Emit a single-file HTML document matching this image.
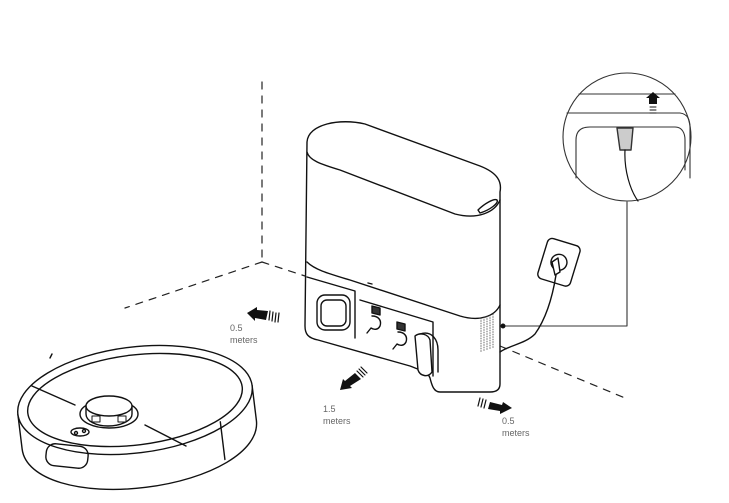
<!DOCTYPE html>
<html><head><style>
html,body{margin:0;padding:0;background:#fff;width:729px;height:503px;overflow:hidden}
svg{display:block}
text{font-family:"Liberation Sans",sans-serif;font-size:9px;fill:#666;stroke:none}
</style></head><body>
<svg width="729" height="503" viewBox="0 0 729 503" xmlns="http://www.w3.org/2000/svg" fill="none" stroke="#111" stroke-width="1.4" stroke-linejoin="round" stroke-linecap="round">
<!-- wall dashed lines -->
<g stroke="#222" stroke-width="1.2" stroke-dasharray="7,7">
<line x1="262" y1="82" x2="262" y2="262"/>
<line x1="262" y1="262" x2="125" y2="308"/>
<line x1="262" y1="262" x2="305" y2="276"/>
<line x1="500" y1="346" x2="625" y2="398"/>
</g>
<!-- base station -->
<path d="M307,142 C308,124 340,118 365,124 L480,166 C498,173 502,182 500,192 L500,384 C500,390 496,392 490,392 L440,392 C434,392 432,386 430,378 C428,372 420,370 410,366 L318,340 C308,338 305,334 305,326 Z" fill="#fff"/>
<path d="M307,152 C309,160 320,164 340,170 L455,214 C478,220 495,212 500,200"/>
<path d="M307,262 C315,270 330,274 350,280 L460,316 C480,322 495,316 500,305"/>
<path d="M307,277 L355,291 L355,338 M360,300 L433,322 L433,376"/>
<rect x="317" y="295" width="33" height="35" rx="8"/>
<rect x="321" y="300" width="25" height="26" rx="6"/>
<path d="M372,306 l8,2 v7 l-8,-2z M397,322 l8,2 v7 l-8,-2z" fill="#333"/>
<path d="M372,316 c6,0 10,4 8,10 c-2,4 -6,4 -9,2 l-4,5 M398,332 c6,0 10,4 8,10 c-2,4 -6,4 -9,2 l-4,5"/>
<path d="M415,336 C420,332 428,334 430,340 L432,372 C428,378 420,376 418,370 Z" fill="#fff"/>
<path d="M420,334 C432,330 438,340 438,350 L438,372"/>
<path d="M368,283 l4,1" />
<g stroke="#444" stroke-width="0.8" stroke-dasharray="1,1.5">
<line x1="481" y1="318" x2="481" y2="352"/><line x1="484" y1="317" x2="484" y2="352"/><line x1="487" y1="316" x2="487" y2="351"/><line x1="490" y1="315" x2="490" y2="350"/><line x1="493" y1="314" x2="493" y2="349"/>
</g>
<path d="M478,210 C484,204 494,198 497,200 C499,203 490,210 480,213 Z"/>
<!-- callout -->
<circle cx="627" cy="137" r="64" stroke="#333" stroke-width="1.1"/>
<path d="M579,94 L675,94 M567,113 L680,113 C688,114 690,120 690,128 L690,178 M576,178 L576,140 C576,130 582,127 590,127 L675,127 C682,127 685,133 685,140 L685,170" stroke="#333" stroke-width="1.1"/>
<path d="M617,128 L633,128 L631,150 L620,150 Z" fill="#ccc" stroke="#333"/>
<path d="M625,150 C624,170 630,190 638,201" stroke-width="1.2"/>
<path d="M649,104 h8 v-6 h3 l-7,-6 l-7,6 h3 z" fill="#111" stroke="none"/>
<path d="M650,107 h6 M650,110 h6 M650,113 h6" stroke-width="1"/>
<path d="M627,202 L627,326 L503,326" stroke="#333" stroke-width="1.1"/>
<circle cx="503" cy="326" r="1.8" fill="#111"/>
<!-- outlet -->
<g transform="rotate(17 558 262)">
<rect x="542" y="241" width="34" height="42" rx="5" fill="#fff"/>
<circle cx="559" cy="262" r="8"/>
</g>
<path d="M552,262 L558,258 L560,272 L555,275 Z" fill="#fff"/>
<path d="M556,275 C552,300 545,320 535,334 C525,344 510,345 500,352"/>
<!-- arrows -->
<g fill="#111" stroke="none">
<path d="M247,313 L257,307 L257,310 L268,311 L266,320 L255,318 L255,321 Z"/>
<path d="M340,390 L343,379 L345,381 L355,373 L361,379 L350,386 L352,388 Z"/>
<path d="M512,408 L503,402 L502,405 L490,402 L488,409 L500,411 L500,414 Z"/>
</g>
<g stroke="#111" stroke-width="1.2">
<line x1="270" y1="311" x2="269" y2="320"/><line x1="273" y1="312" x2="272" y2="321"/><line x1="276" y1="313" x2="275" y2="322"/><line x1="279" y1="313" x2="278" y2="322"/>
<line x1="357" y1="371" x2="363" y2="377"/><line x1="359" y1="369" x2="365" y2="375"/><line x1="361" y1="367" x2="367" y2="373"/>
<line x1="486" y1="400" x2="484" y2="408"/><line x1="483" y1="399" x2="481" y2="407"/><line x1="480" y1="398" x2="478" y2="406"/>
</g>
<!-- robot -->
<g transform="rotate(-7 135 400)">
<path d="M17,400 L17,435 C17,466 70,488 135,488 C200,488 253,466 253,435 L253,400" fill="#fff"/>
<ellipse cx="135" cy="400" rx="118" ry="53" fill="#fff"/>
<ellipse cx="135" cy="400" rx="108" ry="45"/>
<path d="M217,432 L217,470"/>
</g>
<path d="M32,386 L75,405 M145,425 L186,446"/>
<path d="M52,354 l-2,4"/>
<rect x="46" y="445" width="42" height="22" rx="9" transform="rotate(6 67 456)"/>
<ellipse cx="109" cy="414" rx="29" ry="14" fill="#fff"/>
<path d="M86,406 L86,414 C86,421 96,426 108,426 C120,426 132,421 132,414 L132,406" fill="#fff"/>
<ellipse cx="109" cy="406" rx="23" ry="10" fill="#fff"/>
<path d="M92,416 h8 v6 h-8z M118,416 h8 v6 h-8z" stroke-width="1"/>
<ellipse cx="80" cy="432" rx="9" ry="4"/>
<circle cx="76" cy="433" r="1.5"/><circle cx="84" cy="431" r="1.5"/>
<text x="230" y="331">0.5</text><text x="230" y="343">meters</text>
<text x="323" y="412">1.5</text><text x="323" y="424">meters</text>
<text x="502" y="424">0.5</text><text x="502" y="436">meters</text>
</svg>
</body></html>
